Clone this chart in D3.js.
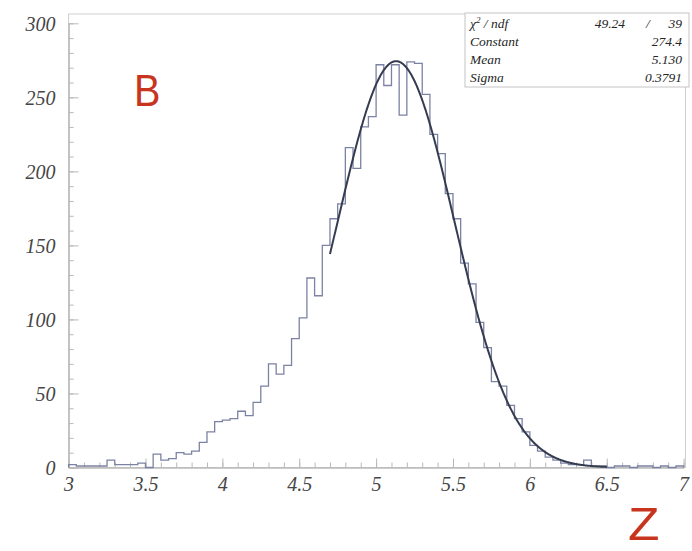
<!DOCTYPE html>
<html>
<head>
<meta charset="utf-8">
<script src="https://cdn.jsdelivr.net/npm/d3@7"></script>
<style>
  html, body { margin: 0; padding: 0; background: #ffffff; }
  svg { display: block; }
</style>
</head>
<body>
<svg id="chart" width="692" height="551"></svg>
<script>
// ---- data ----
const binEdges = [3.00,3.05,3.10,3.15,3.20,3.25,3.30,3.35,3.40,3.45,3.50,3.55,3.60,3.65,3.70,3.75,3.80,3.85,3.90,3.95,
                  4.00,4.05,4.10,4.15,4.20,4.25,4.30,4.35,4.40,4.45,4.50,4.55,4.60,4.65,4.70,4.75,4.80,4.85,4.90,4.95,
                  5.00,5.05,5.10,5.15,5.20,5.25,5.30,5.35,5.40,5.45,5.50,5.55,5.60,5.65,5.70,5.75,5.80,5.85,5.90,5.95,
                  6.00,6.05,6.10,6.15,6.20,6.25,6.30,6.35,6.40,6.45,6.50,6.55,6.60,6.65,6.70,6.75,6.80,6.85,6.90,6.95,7.00];
const counts = [2,1,1,1,1,5,2,2,2,3,0,9,5,6,10,9,11,17,24,31,
                32,33,38,35,44,55,70,63,69,87,101,128,116,150,168,178,216,202,230,237,
                272,258,272,238,274,273,252,225,212,185,168,138,124,98,81,58,55,42,33,24,
                15,11,7,5,3,2,2,5,1,1,0,1,1,0,1,1,0,1,0,1];
const fitParams = { constant: 274.4, mean: 5.130, sigma: 0.3791 };
const fitRange = [4.70, 6.50];
const xMajorTicks = [3, 3.5, 4, 4.5, 5, 5.5, 6, 6.5, 7];
const yMajorTicks = [0, 50, 100, 150, 200, 250, 300];
const statLabels = ["Constant", "Mean", "Sigma"];
const statValues = ["274.4", "5.130", "0.3791"];
const chi2Text = ["49.24", "/", "39"];

// ---- layout ----
const svg = d3.select("#chart");
const x = d3.scaleLinear().domain([3, 7]).range([68.6, 683.6]);
const y = d3.scaleLinear().domain([0, 300]).range([467.5, 23.3]);
const frameTop = 14, frameRight = 685.5;

const axisColor = "#b9b9b9";
const labelColor = "#454545";
const fontSerif = "'Liberation Serif', 'DejaVu Serif', serif";

// frame
svg.append("rect")
  .attr("x", x(3)).attr("y", frameTop)
  .attr("width", frameRight - x(3)).attr("height", y(0) - frameTop)
  .attr("fill", "none").attr("stroke", "#cfcfcf").attr("stroke-width", 1);

function styleAxis(g) {
  g.select(".domain").attr("stroke", axisColor);
  g.selectAll(".tick line").attr("stroke", axisColor);
  g.selectAll(".tick text")
    .attr("fill", labelColor)
    .attr("font-family", fontSerif)
    .attr("font-style", "italic")
    .attr("font-size", 20);
}
// y axis
const yMinor = svg.append("g").attr("transform", `translate(${x(3)},0)`)
  .call(d3.axisLeft(y).tickValues(d3.range(0, 301, 10)).tickSizeInner(-5).tickSizeOuter(0).tickFormat(""));
styleAxis(yMinor);
const yAxis = svg.append("g").attr("transform", `translate(${x(3)},0)`)
  .call(d3.axisLeft(y).tickValues(yMajorTicks).tickSizeInner(-10).tickSizeOuter(0).tickPadding(13).tickFormat(d => d));
styleAxis(yAxis);
yAxis.selectAll(".tick text").attr("dy", "0.36em");

// x axis
const xMinor = svg.append("g").attr("transform", `translate(0,${y(0)})`)
  .call(d3.axisBottom(x).tickValues(d3.range(30, 71, 1).map(v => v / 10)).tickSizeInner(-5).tickSizeOuter(0).tickFormat(""));
styleAxis(xMinor);
const xAxis = svg.append("g").attr("transform", `translate(0,${y(0)})`)
  .call(d3.axisBottom(x).tickValues(xMajorTicks).tickSizeInner(-9).tickSizeOuter(0).tickPadding(9).tickFormat(d => d));
styleAxis(xAxis);

// histogram step outline
const pts = [[x(binEdges[0]), y(0)]];
counts.forEach((c, i) => {
  pts.push([x(binEdges[i]), y(c)]);
  pts.push([x(binEdges[i + 1]), y(c)]);
});
pts.push([x(binEdges[binEdges.length - 1]), y(0)]);
svg.append("path")
  .attr("d", d3.line()(pts))
  .attr("fill", "none")
  .attr("stroke", "#7c82a3")
  .attr("stroke-width", 1.3);

// gaussian fit curve
const gauss = v => fitParams.constant * Math.exp(-0.5 * Math.pow((v - fitParams.mean) / fitParams.sigma, 2));
const fitX = d3.range(fitRange[0], fitRange[1] + 1e-9, 0.005);
svg.append("path")
  .attr("d", d3.line().x(v => x(v)).y(v => y(gauss(v)))(fitX))
  .attr("fill", "none")
  .attr("stroke", "#363c50")
  .attr("stroke-width", 2);

// stats box
const box = { x: 465, y: 13, w: 224, h: 74 };
svg.append("rect")
  .attr("x", box.x).attr("y", box.y).attr("width", box.w).attr("height", box.h)
  .attr("fill", "#ffffff").attr("stroke", "#c4c4c4").attr("stroke-width", 1);
const rowY = [28, 46, 64, 82];
const st = svg.append("g")
  .attr("font-family", fontSerif)
  .attr("font-style", "italic")
  .attr("font-size", 13.5)
  .attr("fill", "#262626");
const chiLabel = st.append("text").attr("x", 470).attr("y", rowY[0]);
chiLabel.append("tspan").text("χ");
chiLabel.append("tspan").attr("font-size", 9).attr("dy", -5).text("2");
chiLabel.append("tspan").attr("dy", 5).text(" / ndf");
st.append("text").attr("x", 625).attr("y", rowY[0]).attr("text-anchor", "end").text(chi2Text[0]);
st.append("text").attr("x", 648).attr("y", rowY[0]).attr("text-anchor", "middle").text(chi2Text[1]);
st.append("text").attr("x", 682).attr("y", rowY[0]).attr("text-anchor", "end").text(chi2Text[2]);
statLabels.forEach((lab, i) => {
  st.append("text").attr("x", 470).attr("y", rowY[i + 1]).text(lab);
  st.append("text").attr("x", 682).attr("y", rowY[i + 1]).attr("text-anchor", "end").text(statValues[i]);
});

// annotation letters
svg.append("text")
  .attr("transform", "translate(134,106) scale(0.9,1)")
  .attr("font-family", "'Liberation Sans', Arial, sans-serif")
  .attr("font-size", 44)
  .attr("fill", "#c8351e")
  .text("B");
svg.append("text")
  .attr("transform", "translate(628,540) scale(1.12,1)")
  .attr("font-family", "'Liberation Sans', Arial, sans-serif")
  .attr("font-size", 46)
  .attr("fill", "#c8351e")
  .text("Z");
</script>
</body>
</html>
